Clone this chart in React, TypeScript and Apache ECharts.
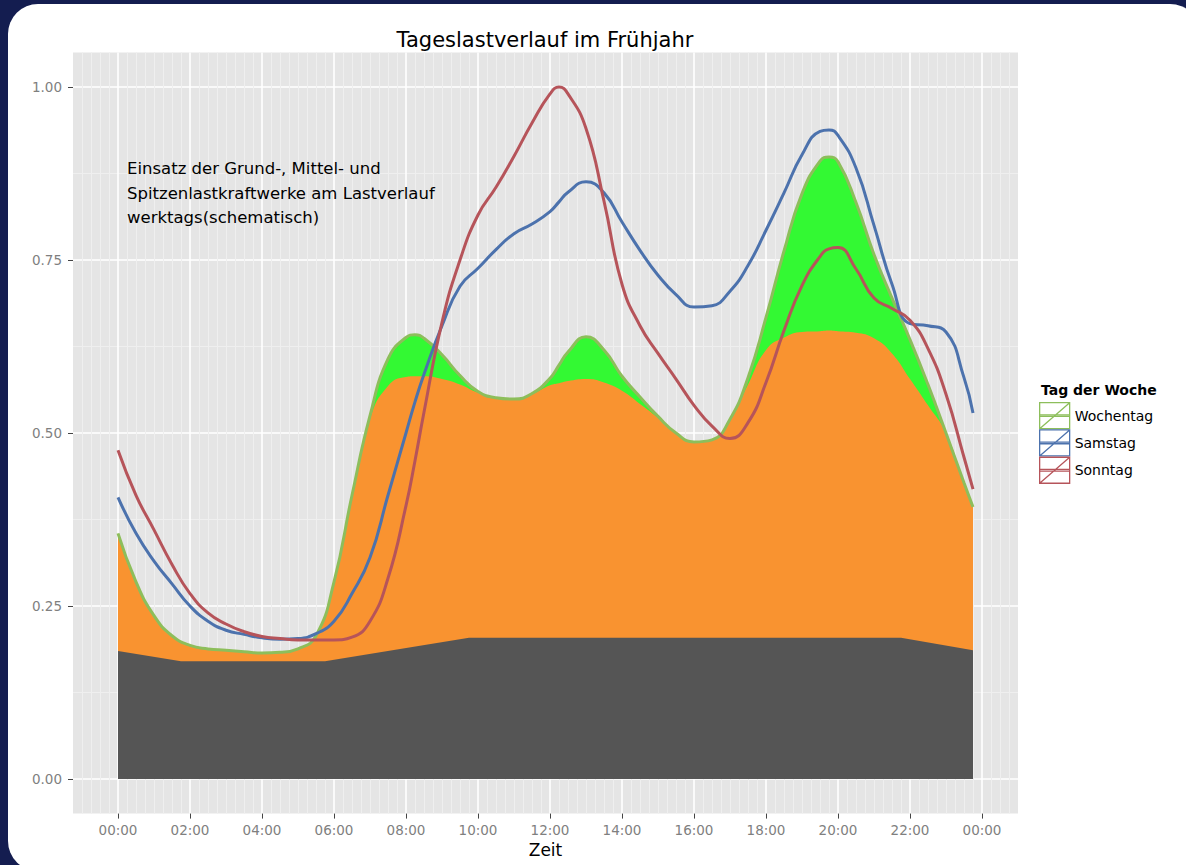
import React, { useEffect, useRef } from 'react';
import * as echarts from 'echarts';

// ---- data (hours of the day, values normalised to the Sonntag peak) ----
const HOURS = [
  0, 0.5, 1, 1.5, 2, 2.5, 3, 3.5, 4, 4.5, 5, 5.5, 6, 6.5, 7, 7.5, 8, 8.25, 8.5, 9, 9.5,
  10, 10.5, 11, 11.5, 12, 12.25, 12.5, 13, 13.5, 14, 14.5, 15, 15.5, 16, 16.5, 17, 17.5,
  18, 18.5, 19, 19.5, 19.75, 20, 20.5, 21, 21.5, 22, 22.5, 23, 23.5, 23.75,
];
const WOCHENTAG = [
  0.355, 0.285, 0.236, 0.207, 0.193, 0.188, 0.186, 0.184, 0.182, 0.183, 0.188, 0.207, 0.285, 0.41,
  0.525, 0.607, 0.638, 0.642, 0.637, 0.613, 0.583, 0.56, 0.551, 0.549, 0.557, 0.579, 0.598, 0.617, 0.639, 0.62,
  0.582, 0.552, 0.524, 0.5, 0.487, 0.49, 0.52, 0.58, 0.667, 0.763, 0.846, 0.893, 0.899, 0.892, 0.833,
  0.758, 0.695, 0.635, 0.57, 0.5, 0.428, 0.393,
];
const MITTELLAST_TOP = [
  0.355, 0.285, 0.236, 0.207, 0.193, 0.188, 0.186, 0.184, 0.182, 0.183, 0.188, 0.207, 0.285, 0.41,
  0.52, 0.568, 0.581, 0.582, 0.582, 0.578, 0.57, 0.558, 0.551, 0.549, 0.556, 0.569, 0.572, 0.575, 0.578, 0.573,
  0.561, 0.542, 0.522, 0.5, 0.487, 0.49, 0.518, 0.57, 0.62, 0.638, 0.646, 0.647, 0.648, 0.647, 0.645,
  0.637, 0.615, 0.578, 0.54, 0.5, 0.428, 0.393,
];
const SAMSTAG = [
  0.407, 0.355, 0.315, 0.282, 0.25, 0.228, 0.215, 0.209, 0.204, 0.202, 0.203, 0.21, 0.228, 0.268,
  0.32, 0.41, 0.5, 0.545, 0.585, 0.655, 0.712, 0.738, 0.765, 0.788, 0.802, 0.82, 0.834, 0.848, 0.863, 0.847,
  0.805, 0.764, 0.728, 0.7, 0.682, 0.684, 0.705, 0.742, 0.793, 0.847, 0.902, 0.936, 0.938, 0.93, 0.883,
  0.8, 0.715, 0.658, 0.655, 0.646, 0.58, 0.529,
];
const SONNTAG = [
  0.475, 0.41, 0.36, 0.31, 0.268, 0.24, 0.224, 0.213, 0.206, 0.203, 0.201, 0.201, 0.201, 0.205,
  0.228, 0.29, 0.395, 0.46, 0.53, 0.66, 0.75, 0.815, 0.855, 0.9, 0.948, 0.99, 1.0, 0.99, 0.94, 0.835,
  0.715, 0.655, 0.615, 0.578, 0.54, 0.51, 0.492, 0.515, 0.573, 0.648, 0.713, 0.755, 0.766, 0.768, 0.737,
  0.695, 0.68, 0.663, 0.622, 0.556, 0.465, 0.419,
];
const GRUND_HOURS = [0, 1.75, 5.75, 9.75, 21.75, 23.75];
const GRUNDLAST = [0.185, 0.17, 0.17, 0.204, 0.204, 0.186];

const X_TICK_HOURS = [0, 2, 4, 6, 8, 10, 12, 14, 16, 18, 20, 22, 24];
const X_TICK_LABELS = ['00:00', '02:00', '04:00', '06:00', '08:00', '10:00', '12:00', '14:00', '16:00', '18:00', '20:00', '22:00', '00:00'];
const Y_TICKS = [0, 0.25, 0.5, 0.75, 1];
const Y_TICK_LABELS = ['0.00', '0.25', '0.50', '0.75', '1.00'];
const Y_MINOR = [0.125, 0.375, 0.625, 0.875];

// ---- axis scaffolding ----
const X_MIN = -1.25, X_MAX = 25, X_STEP = 0.25;
const Y_MIN = -0.05, Y_MAX = 1.05, Y_STEP = 0.025;
const xCats: string[] = [];
for (let i = 0; i <= Math.round((X_MAX - X_MIN) / X_STEP); i++) xCats.push((X_MIN + i * X_STEP).toFixed(3));
const yCats: string[] = [];
for (let i = 0; i <= Math.round((Y_MAX - Y_MIN) / Y_STEP); i++) yCats.push((Y_MIN + i * Y_STEP).toFixed(3));
const xMajor = new Map<string, string>(X_TICK_HOURS.map((h, k) => [h.toFixed(3), X_TICK_LABELS[k]]));
const yMajor = new Map<string, string>(Y_TICKS.map((v, k) => [v.toFixed(3), Y_TICK_LABELS[k]]));
const yMinorSet = new Set<string>(Y_MINOR.map((v) => v.toFixed(3)));

const FONT = 'DejaVu Sans';
const C_GREEN_LINE = '#8DBE5B';
const C_GREEN_FILL = '#33F933';
const C_ORANGE = '#F99330';
const C_BASE = '#555555';
const C_BLUE = '#4C72AD';
const C_RED = '#B6545A';
const ICON = 'path://M0,0L30,0L30,26L0,26Z M0,26L30,0 M0,12.2L30,12.2L30,13.8L0,13.8Z';
const SMOOTH = 0.5;

const pairs = (xs: number[], ys: number[]) => xs.map((x, i) => [x, ys[i]]);

export default function App() {
  const ref = useRef<HTMLDivElement>(null);
  useEffect(() => {
    if (!ref.current) return;
    const chart = echarts.init(ref.current, null, { renderer: 'svg' });
    const isXMajor = (i: number, v?: string) => xMajor.has(v ?? xCats[i]);
    const isXMinor = (i: number) => i > 0 && i < xCats.length - 1 && !xMajor.has(xCats[i]);
    const isYMajor = (i: number, v?: string) => yMajor.has(v ?? yCats[i]);
    const isYMinor = (i: number) => yMinorSet.has(yCats[i]);
    const lineSeries = (name: string, ys: number[], color: string, z: number) => ({
      name,
      type: 'line',
      data: pairs(HOURS, ys),
      smooth: SMOOTH,
      symbol: 'none',
      lineStyle: { width: 3, color },
      itemStyle: { color },
      z,
    });
    const areaSeries = (name: string, xs: number[], ys: number[], color: string, smooth: any, z: number) => ({
      name,
      type: 'line',
      data: pairs(xs, ys),
      smooth,
      symbol: 'none',
      lineStyle: { width: 0 },
      areaStyle: { color, opacity: 1 },
      itemStyle: { color },
      z,
    });
    const option: any = {
      animation: false,
      textStyle: { fontFamily: FONT },
      title: {
        text: 'Tageslastverlauf im Frühjahr',
        left: 545,
        top: 40,
        padding: 0,
        textAlign: 'center',
        textVerticalAlign: 'middle',
        textStyle: { fontSize: 21, fontWeight: 'normal', color: '#000', fontFamily: FONT },
      },
      legend: {
        orient: 'vertical',
        left: 1039,
        top: 402,
        padding: 0,
        itemWidth: 30,
        itemHeight: 26,
        itemGap: 0,
        symbolKeepAspect: false,
        selectedMode: false,
        textStyle: { fontSize: 14, color: '#000', fontFamily: FONT },
        data: [
          { name: 'Wochentag', icon: ICON, itemStyle: { color: 'rgba(0,0,0,0)', borderColor: C_GREEN_LINE, borderWidth: 1.3 } },
          { name: 'Samstag', icon: ICON, itemStyle: { color: 'rgba(0,0,0,0)', borderColor: C_BLUE, borderWidth: 1.3 } },
          { name: 'Sonntag', icon: ICON, itemStyle: { color: 'rgba(0,0,0,0)', borderColor: C_RED, borderWidth: 1.3 } },
        ],
      },
      graphic: [
        {
          type: 'text',
          left: 1041,
          top: 383,
          style: { text: 'Tag der Woche', font: `bold 14px "${FONT}"`, fill: '#000', lineWidth: 0 },
        },
        {
          type: 'text',
          x: 127,
          y: 193,
          z: 10,
          style: {
            text: 'Einsatz der Grund-, Mittel- und\nSpitzenlastkraftwerke am Lastverlauf\nwerktags(schematisch)',
            font: `16.5px "${FONT}"`,
            lineHeight: 24.5,
            fill: '#000',
            stroke: 'none',
            lineWidth: 0,
            textVerticalAlign: 'middle',
          },
        },
      ],
      grid: {
        left: 73,
        right: 168,
        top: 52.4,
        bottom: 51.4,
        show: true,
        backgroundColor: '#E5E5E5',
        borderWidth: 0,
      },
      xAxis: [
        { type: 'value', min: X_MIN, max: X_MAX, show: false },
        {
          type: 'category',
          data: xCats,
          boundaryGap: false,
          position: 'bottom',
          axisLine: { show: false },
          axisTick: { show: true, interval: isXMajor, length: 5, lineStyle: { color: '#444', width: 1 } },
          axisLabel: {
            interval: isXMajor,
            formatter: (v: string) => xMajor.get(v) ?? '',
            color: '#7F7F7F',
            fontSize: 13.5,
            margin: 9,
            fontFamily: FONT,
          },
          splitLine: { show: true, interval: isXMajor, lineStyle: { color: '#FFFFFF', width: 1.6 } },
          name: 'Zeit',
          nameLocation: 'middle',
          nameGap: 27,
          nameTextStyle: { fontSize: 17, color: '#000', fontFamily: FONT },
        },
        {
          type: 'category',
          data: xCats,
          boundaryGap: false,
          position: 'bottom',
          axisLine: { show: false },
          axisTick: { show: false },
          axisLabel: { show: false },
          splitLine: { show: true, interval: isXMinor, lineStyle: { color: '#EFEFEF', width: 1 } },
        },
      ],
      yAxis: [
        { type: 'value', min: Y_MIN, max: Y_MAX, show: false },
        {
          type: 'category',
          data: yCats,
          boundaryGap: false,
          position: 'left',
          axisLine: { show: false },
          axisTick: { show: true, interval: isYMajor, length: 5, lineStyle: { color: '#444', width: 1 } },
          axisLabel: {
            interval: isYMajor,
            formatter: (v: string) => yMajor.get(v) ?? '',
            color: '#7F7F7F',
            fontSize: 13.5,
            margin: 11,
            fontFamily: FONT,
          },
          splitLine: { show: true, interval: isYMajor, lineStyle: { color: '#FFFFFF', width: 1.6 } },
        },
        {
          type: 'category',
          data: yCats,
          boundaryGap: false,
          position: 'left',
          axisLine: { show: false },
          axisTick: { show: false },
          axisLabel: { show: false },
          splitLine: { show: true, interval: isYMinor, lineStyle: { color: '#EFEFEF', width: 1 } },
        },
      ],
      series: [
        areaSeries('Spitzenlast', HOURS, WOCHENTAG, C_GREEN_FILL, SMOOTH, 2),
        areaSeries('Mittellast', HOURS, MITTELLAST_TOP, C_ORANGE, SMOOTH, 3),
        areaSeries('Grundlast', GRUND_HOURS, GRUNDLAST, C_BASE, false, 4),
        lineSeries('Wochentag', WOCHENTAG, C_GREEN_LINE, 5),
        lineSeries('Samstag', SAMSTAG, C_BLUE, 6),
        lineSeries('Sonntag', SONNTAG, C_RED, 7),
      ],
    };
    chart.setOption(option);
    return () => chart.dispose();
  }, []);

  return (
    <div style={{ position: 'fixed', left: 0, top: 0, width: 1186, height: 865, background: '#141D50', overflow: 'hidden' }}>
      <div style={{ position: 'absolute', left: 8, top: 4, width: 1192, height: 867, background: '#FFFFFF', borderRadius: 30 }} />
      <div ref={ref} style={{ position: 'absolute', left: 0, top: 0, width: 1186, height: 865 }} />
    </div>
  );
}
